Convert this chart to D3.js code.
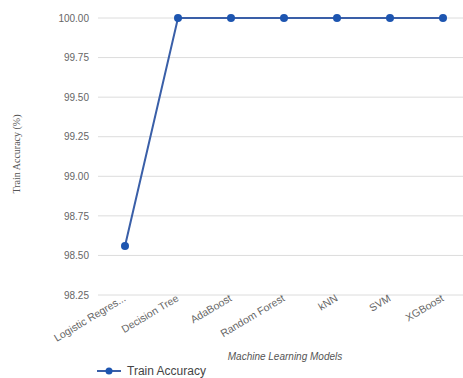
<!DOCTYPE html>
<html><head><meta charset="utf-8">
<script src="https://cdn.jsdelivr.net/npm/d3@7"></script>
<style>body{margin:0;background:#fff;}svg{display:block;font-family:Arial,"Liberation Sans",sans-serif;}</style>
</head><body>
<script>
const categories = ["Logistic Regres...", "Decision Tree", "AdaBoost", "Random Forest", "kNN", "SVM", "XGBoost"];
const trainAccuracy = [98.56, 100, 100, 100, 100, 100, 100];
const yTicks = [98.25, 98.50, 98.75, 99.00, 99.25, 99.50, 99.75, 100.00];

const W = 463, H = 378;
const svg = d3.select("body").append("svg").attr("width", W).attr("height", H);

const x = d3.scalePoint().domain(categories).range([98.5, 469.5]).padding(0.5);
const y = d3.scaleLinear().domain([98.25, 100]).range([295, 18]);

// gridlines
svg.append("g").selectAll("line").data(yTicks).join("line")
  .attr("x1", 98).attr("x2", W).attr("y1", d => y(d)).attr("y2", d => y(d))
  .attr("stroke", "#dcdcdc").attr("stroke-width", 1);

// y axis labels
const yAxis = d3.axisLeft(y).tickValues(yTicks).tickFormat(d3.format(".2f")).tickSize(0).tickPadding(0);
const gy = svg.append("g").attr("transform", "translate(89,0)").call(yAxis);
gy.select(".domain").remove();
gy.selectAll("text").attr("fill", "#666").attr("font-size", 10);

// x axis labels
const xAxis = d3.axisBottom(x).tickSize(0).tickPadding(0);
const gx = svg.append("g").attr("transform", "translate(0,300)").call(xAxis);
gx.select(".domain").remove();
gx.selectAll("text").attr("fill", "#666").attr("font-size", 10.5)
  .attr("text-anchor", "end").attr("dy", "0.35em")
  .attr("transform", "translate(-1,-3) rotate(-31)");

// line
const line = d3.line().x((d, i) => x(categories[i])).y(d => y(d));
svg.append("path").datum(trainAccuracy).attr("d", line)
  .attr("fill", "none").attr("stroke", "#3a5fa8").attr("stroke-width", 2);
svg.append("g").selectAll("circle").data(trainAccuracy).join("circle")
  .attr("cx", (d, i) => x(categories[i])).attr("cy", d => y(d)).attr("r", 4)
  .attr("fill", "#1d55b0");

// axis titles
svg.append("text").attr("transform", "translate(20,154) rotate(-90)")
  .attr("text-anchor", "middle").attr("font-size", 10).attr("fill", "#555")
  .attr("font-family", "'Liberation Serif',serif")
  .text("Train Accuracy (%)");
svg.append("text").attr("x", 285).attr("y", 360)
  .attr("text-anchor", "middle").attr("font-size", 10).attr("font-style", "italic").attr("fill", "#555")
  .text("Machine Learning Models");

// legend
const lg = svg.append("g");
lg.append("line").attr("x1", 97).attr("x2", 121).attr("y1", 371).attr("y2", 371)
  .attr("stroke", "#3a5fa8").attr("stroke-width", 2);
lg.append("circle").attr("cx", 109).attr("cy", 371).attr("r", 3.5).attr("fill", "#1d55b0");
lg.append("text").attr("x", 127).attr("y", 375).attr("font-size", 12).attr("fill", "#444")
  .text("Train Accuracy");
</script>
</body></html>
